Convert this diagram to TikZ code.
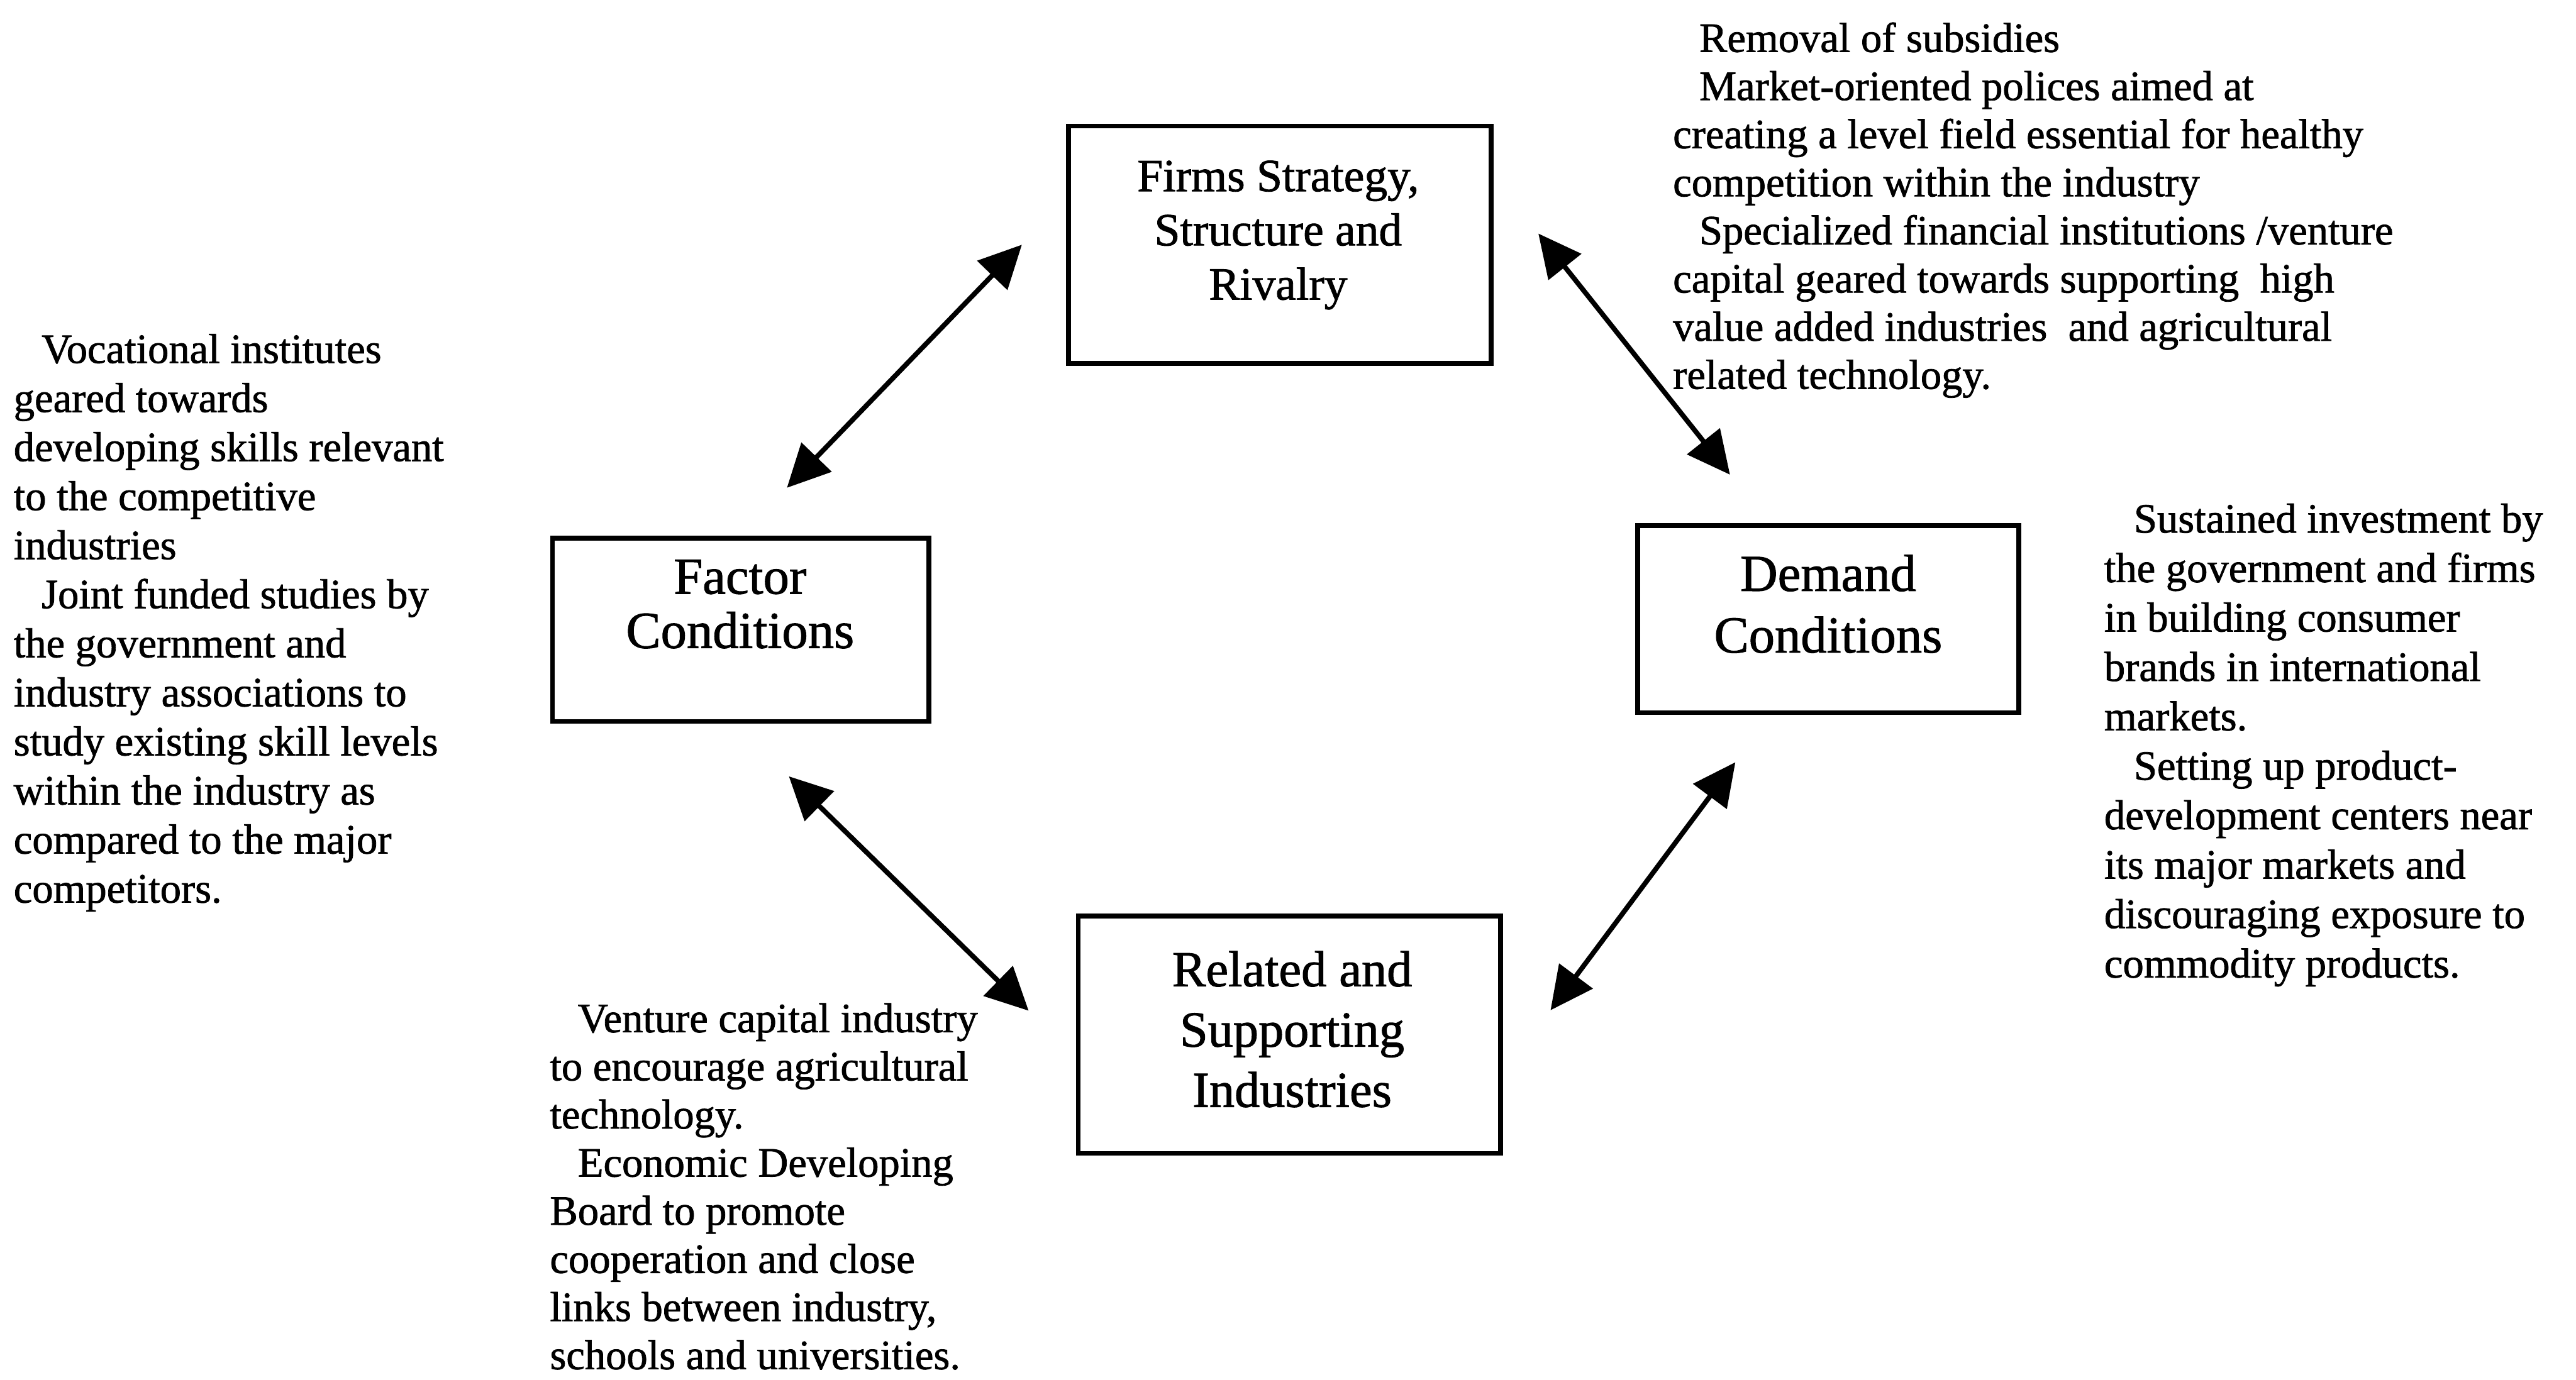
\documentclass[tikz,border=0pt]{standalone}
\usepackage{fontspec}
\setmainfont{Liberation Serif}[FakeBold=1.2]
\usetikzlibrary{arrows.meta}

% multi-line text blocks whose baseline is the first line's baseline
\newcommand\notelines[3]{{\fontsize{#1}{#2}\selectfont\begin{tabular}[t]{@{}l@{}}#3\end{tabular}}}
\newcommand\boxlines[3]{{\fontsize{#1}{#2}\selectfont\begin{tabular}[t]{@{}c@{}}#3\end{tabular}}}
\newcommand\ind{\hspace*{0.34cm}}

\tikzset{
  box/.style={draw, line width=0.06cm, inner sep=0pt},
  boxlabel/.style={anchor=base, inner sep=0pt},
  note/.style={anchor=base west, inner sep=0pt},
  link/.style={line width=0.06cm, >={Triangle[length=0.52cm,width=0.5cm]}, <->}
}

\begin{document}
\begin{tikzpicture}[x=0.02cm, y=-0.02cm]
\useasboundingbox (0,0) rectangle (1568,840);

% the four determinants
\node[box, minimum width=5.15cm, minimum height=2.89cm] (firms)   at (779,149)     {};
\node[box, minimum width=4.58cm, minimum height=2.23cm] (factor)  at (450.8,383.5) {};
\node[box, minimum width=4.64cm, minimum height=2.28cm] (demand)  at (1112.8,376.9) {};
\node[box, minimum width=5.14cm, minimum height=2.89cm] (related) at (784.8,630)   {};

\node[boxlabel] (firmslabel) at (778,116.4)
  {\boxlines{16}{18.78}{Firms Strategy,\\Structure and\\Rivalry}};
\node[boxlabel] (factorlabel) at (450.5,361.5)
  {\boxlines{18}{18.78}{Factor\\Conditions}};
\node[boxlabel] (demandlabel) at (1112.8,359.8)
  {\boxlines{18}{21.34}{Demand\\Conditions}};
\node[boxlabel] (relatedlabel) at (786.5,600.5)
  {\boxlines{17.5}{20.9}{Related and\\Supporting\\Industries}};

% two-way links between the determinants
\coordinate (a1s) at (479,297);     \coordinate (a1e) at (622,149);
\coordinate (a2s) at (936.4,142.2); \coordinate (a2e) at (1053,289);
\coordinate (a3s) at (480.2,472.7); \coordinate (a3e) at (626.1,615.4);
\coordinate (a4s) at (943.8,615.1); \coordinate (a4e) at (1056.3,464.1);
\draw[link] (a1s) -- (a1e);
\draw[link] (a2s) -- (a2e);
\draw[link] (a3s) -- (a3e);
\draw[link] (a4s) -- (a4e);

% policy notes
\node[note] (factornote) at (8,221) {\notelines{14.5}{17.0}{%
\ind Vocational institutes\\
geared towards\\
developing skills relevant\\
to the competitive\\
industries\\
\ind Joint funded studies by\\
the government and\\
industry associations to\\
study existing skill levels\\
within the industry as\\
compared to the major\\
competitors.}};

\node[note] (firmsnote) at (1018,31.6) {\notelines{14.5}{16.68}{%
\hspace*{0.32cm}Removal of subsidies\\
\hspace*{0.32cm}Market-oriented polices aimed at\\
creating a level field essential for healthy\\
competition within the industry\\
\hspace*{0.32cm}Specialized financial institutions /venture\\
capital geared towards supporting\ \ high\\
value added industries\ \ and agricultural\\
related technology.}};

\node[note] (demandnote) at (1280.5,324.3) {\notelines{14.5}{17.13}{%
\hspace*{0.36cm}Sustained investment by\\
the government and firms\\
in building consumer\\
brands in international\\
markets.\\
\hspace*{0.36cm}Setting up product-\\
development centers near\\
its major markets and\\
discouraging exposure to\\
commodity products.}};

\node[note] (relatednote) at (334.4,628.5) {\notelines{14.5}{16.68}{%
\ind Venture capital industry\\
to encourage agricultural\\
technology.\\
\ind Economic Developing\\
Board to promote\\
cooperation and close\\
links between industry,\\
schools and universities.}};
\end{tikzpicture}
\end{document}
